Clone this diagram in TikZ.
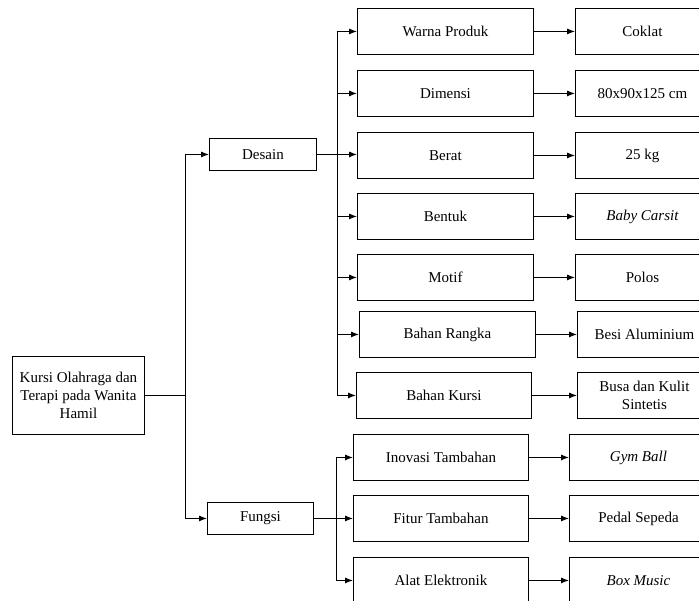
\documentclass[tikz,border=0pt]{standalone}
\usepackage{fontspec}
\setmainfont{Liberation Serif}
\usetikzlibrary{arrows.meta}
\begin{document}
\begin{tikzpicture}[x=1pt,y=-1pt,
  box/.style={draw, line width=0.9pt, anchor=north west, inner sep=0pt, align=center, font=\fontsize{15}{18}\selectfont},
  c1/.style={box, minimum width=176pt, minimum height=46pt},
  c2/.style={box, minimum width=134pt, minimum height=46pt},
  arr/.style={-{Latex[length=8pt,width=6pt]}, line width=0.9pt},
  ln/.style={line width=0.9pt}]
\clip (0,0) rectangle (699,600);
\fill[white] (0,0) rectangle (699,600);
% root and level 1
\node[box, minimum width=132pt, minimum height=78pt] (root) at (12,356) {Kursi Olahraga dan\\Terapi pada Wanita\\Hamil};
\node[box, minimum width=107pt, minimum height=32pt] (desain) at (209,138) {Desain};
\node[box, minimum width=106pt, minimum height=32pt] (fungsi) at (207,502) {Fungsi};
% Desain column
\node[c1] (wp) at (357,8) {Warna Produk};
\node[c1] (dim) at (357,70) {Dimensi};
\node[c1] (ber) at (357,132) {Berat};
\node[c1] (ben) at (357,193) {Bentuk};
\node[c1] (mot) at (357,254) {Motif};
\node[c1] (br) at (359,311) {Bahan Rangka};
\node[c1, minimum width=175pt] (bk) at (356,372) {Bahan Kursi};
\node[c2] (cok) at (575,8) {Coklat};
\node[c2] (dimv) at (575,70) {80x90x125 cm};
\node[c2] (berv) at (575,132) {25 kg};
\node[c2] (benv) at (575,193) {\itshape Baby Carsit};
\node[c2] (motv) at (575,254) {Polos};
\node[c2] (brv) at (577,311) {Besi Aluminium};
\node[c2] (bkv) at (577,372) {Busa dan Kulit\\Sintetis};
% Fungsi column
\node[c1, minimum width=175pt] (it) at (353,434) {Inovasi Tambahan};
\node[c1, minimum width=175pt] (ft) at (353,495) {Fitur Tambahan};
\node[c1, minimum width=175pt] (ae) at (353,557) {Alat Elektronik};
\node[c2, minimum width=138pt] (gb) at (569,434) {\itshape Gym Ball};
\node[c2, minimum width=138pt] (ps) at (569,495) {Pedal Sepeda};
\node[c2, minimum width=138pt] (bm) at (569,557) {\itshape Box Music};
% junction coordinates
\coordinate (j1) at (185,0);
\coordinate (j2) at (337,0);
\coordinate (j3) at (336,0);
% root connectors
\draw[arr] (root.east) -- (root.east -| j1) |- (desain.west);
\draw[arr] (root.east -| j1) |- (fungsi.west);
% Desain connectors
\draw[ln] (j2 |- wp.west) -- (j2 |- bk.west);
\draw[arr] (desain.east) -- (desain.east -| ber.west);
\foreach \b in {wp,dim,ben,mot,br,bk} \draw[arr] (j2 |- \b.west) -- (\b.west);
\draw[arr] (wp.east) -- (cok.west);
\draw[arr] (dim.east) -- (dimv.west);
\draw[arr] (ber.east) -- (berv.west);
\draw[arr] (ben.east) -- (benv.west);
\draw[arr] (mot.east) -- (motv.west);
\draw[arr] (br.east) -- (brv.west);
\draw[arr] (bk.east) -- (bkv.west);
% Fungsi connectors
\draw[ln] (j3 |- it.west) -- (j3 |- ae.west);
\draw[arr] (fungsi.east) -- (fungsi.east -| ft.west);
\draw[arr] (j3 |- it.west) -- (it.west);
\draw[arr] (j3 |- ae.west) -- (ae.west);
\draw[arr] (it.east) -- (gb.west);
\draw[arr] (ft.east) -- (ps.west);
\draw[arr] (ae.east) -- (bm.west);
\end{tikzpicture}
\end{document}
